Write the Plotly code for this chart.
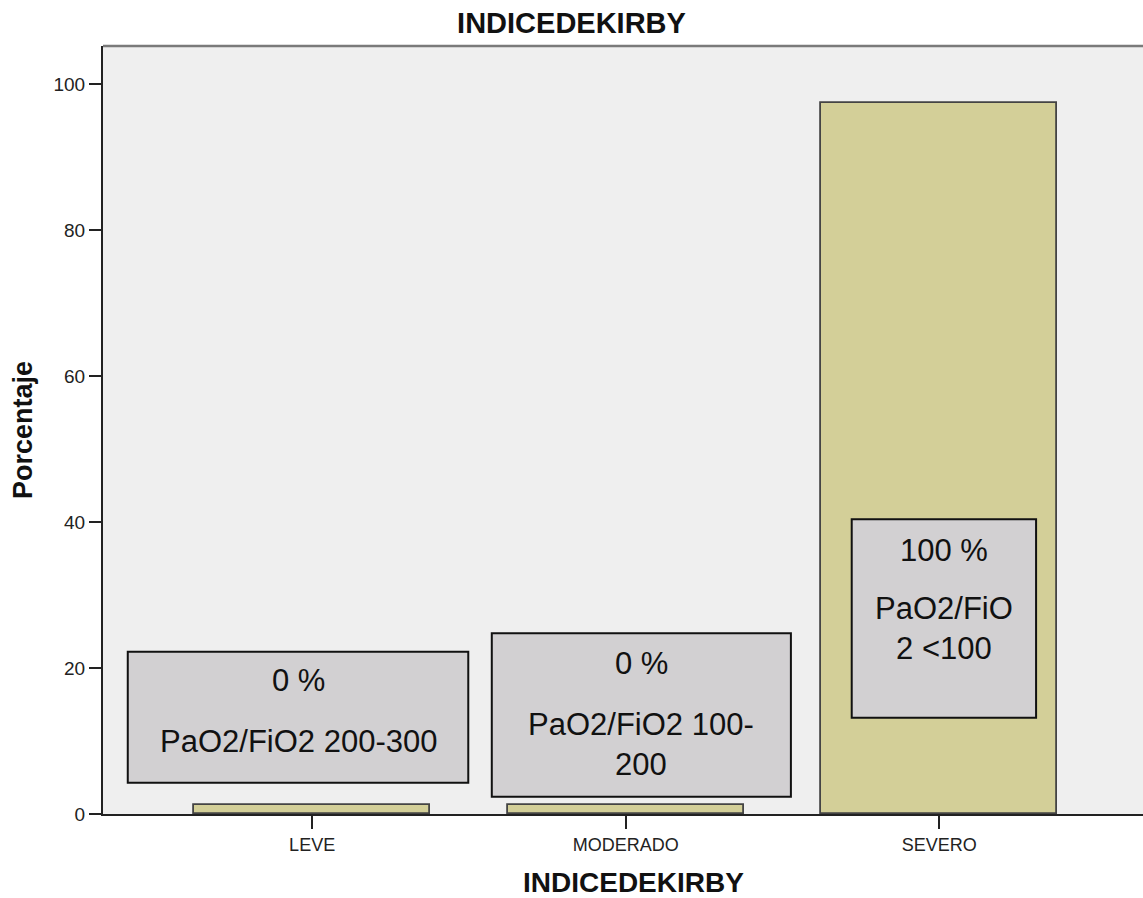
import plotly.graph_objects as go

# Distribution of patients by Kirby index (PaO2/FiO2) category
categories = ["LEVE", "MODERADO", "SEVERO"]
percentages = [1.3, 1.3, 97.4]

# Text of the call-out boxes, one list of lines per category
box_headers = ["0 %", "0 %", "100 %"]
box_bodies = ["PaO2/FiO2 200-300", "PaO2/FiO2 100-<br>200", "PaO2/FiO<br>2 &lt;100"]

y_ticks = [0, 20, 40, 60, 80, 100]

# Call-out box geometry in axis units: (x0, x1, y0, y1, header_y, body_y)
box_geometry = [
    (-0.588, 0.498, 4.29, 22.23, 18.26, 9.90),
    (0.573, 1.527, 2.37, 24.75, 20.64, 9.52),
    (1.721, 2.309, 13.19, 40.37, 36.16, 25.35),
]

FONT = "Liberation Sans, Arial, sans-serif"
BAR_FILL = "#d3cf98"
BOX_FILL = "#d2d0d2"

fig = go.Figure()
fig.add_trace(
    go.Bar(
        x=list(range(len(categories))),
        y=percentages,
        width=0.753,
        marker=dict(color=BAR_FILL, line=dict(color="#444444", width=1.8)),
        hoverinfo="skip",
    )
)

shapes = [
    # grey frame line along the top of the plotting area
    dict(type="line", xref="paper", yref="paper", x0=0, x1=1, y0=1, y1=1,
         line=dict(color="#7a7a7a", width=2.5), layer="above"),
]
annotations = []
for (x0, x1, y0, y1, hy, by), head, body in zip(box_geometry, box_headers, box_bodies):
    shapes.append(dict(type="rect", xref="x", yref="y", x0=x0, x1=x1, y0=y0, y1=y1,
                       fillcolor=BOX_FILL, line=dict(color="#111111", width=2),
                       layer="above"))
    xc = (x0 + x1) / 2
    annotations.append(dict(x=xc, y=hy, xref="x", yref="y", text=head, showarrow=False,
                            font=dict(family=FONT, size=31, color="#111111"),
                            xanchor="center", yanchor="middle"))
    annotations.append(dict(x=xc, y=by, xref="x", yref="y", text=body, showarrow=False,
                            font=dict(family=FONT, size=31, color="#111111"),
                            xanchor="center", yanchor="middle", align="center"))

# axis titles
annotations.append(dict(x=0.51, y=-0.0898, xref="paper", yref="paper", text="<b>INDICEDEKIRBY</b>",
                        showarrow=False, font=dict(family=FONT, size=28, color="#111111"),
                        xanchor="center", yanchor="middle"))
annotations.append(dict(x=-0.077, y=0.5, xref="paper", yref="paper", text="<b>Porcentaje</b>",
                        showarrow=False, textangle=-90,
                        font=dict(family=FONT, size=27, color="#111111"),
                        xanchor="center", yanchor="middle"))

fig.update_layout(
    width=1143,
    height=898,
    margin=dict(l=103, r=0, t=46, b=84),
    paper_bgcolor="white",
    plot_bgcolor="#efefef",
    showlegend=False,
    title=dict(text="<b>INDICEDEKIRBY</b>", x=0.5, xanchor="center", y=0.975,
               yanchor="middle", yref="container",
               font=dict(family=FONT, size=29, color="#111111")),
    shapes=shapes,
    annotations=annotations,
    bargap=0,
)
fig.update_xaxes(
    range=[-0.667, 2.65],
    tickmode="array",
    tickvals=list(range(len(categories))),
    ticktext=categories,
    ticks="outside",
    ticklen=13,
    tickwidth=2,
    tickcolor="#222222",
    showline=True,
    linecolor="#222222",
    linewidth=2,
    showgrid=False,
    zeroline=False,
    tickfont=dict(family=FONT, size=18, color="#222222"),
)
fig.update_yaxes(
    range=[0, 105.2],
    tickmode="array",
    tickvals=y_ticks,
    ticks="outside",
    ticklen=12,
    tickwidth=2,
    tickcolor="#222222",
    showline=True,
    linecolor="#222222",
    linewidth=2,
    showgrid=False,
    zeroline=False,
    tickfont=dict(family=FONT, size=19, color="#222222"),
)

fig.write_html("out.html")
